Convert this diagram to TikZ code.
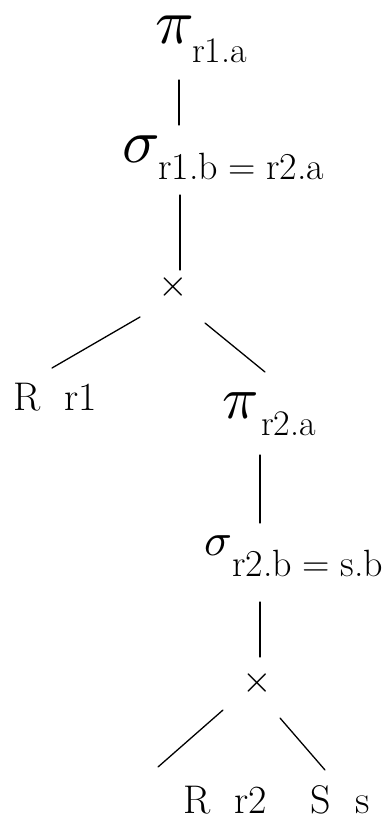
\documentclass[tikz,border=0pt]{standalone}
\usepackage{graphicx}
\usetikzlibrary{calc}
\newcommand{\bigsym}[2]{\scalebox{#1}{$#2$}}
\tikzset{
  sym/.style={inner sep=0pt},
  subtxt/.style={inner sep=0pt, anchor=west, font=\fontsize{36}{36}\selectfont},
  subwide/.style={inner sep=0pt, anchor=west, font=\fontsize{38}{38}\selectfont},
  rel/.style={inner sep=0pt, font=\fontsize{40}{40}\selectfont},
  edge/.style={line width=1.3pt, line cap=round}
}
\begin{document}
\begin{tikzpicture}[x=1pt,y=-1pt]
\useasboundingbox (0,0) rectangle (390,822);
% top projection
\node[sym] (pi1) at (175,30) {\bigsym{6.4}{\pi}};
\node[subtxt] (pi1s) at (192,51) {r1.a};
% top selection
\node[sym] (sg1) at (141,149) {\bigsym{6.2}{\sigma}};
\node[subwide] (sg1s) at (158,166) {r1.b\;=\;r2.a};
% upper cross product
\node[sym] (x1) at (173,287) {\bigsym{3.8}{\times}};
\node[rel] (rr1) at (55,397) {R\ \ r1};
% right projection
\node[sym] (pi2) at (241,406) {\bigsym{6.0}{\pi}};
\node[subtxt] (pi2s) at (261,424) {r2.a};
% right selection
\node[sym] (sg2) at (218,546) {\bigsym{4.6}{\sigma}};
\node[subwide] (sg2s) at (232,563) {r2.b\;=\;s.b};
% lower cross product
\node[sym] (x2) at (257,683) {\bigsym{3.8}{\times}};
\node[rel] (rr2) at (225,800) {R\ \ r2};
\node[rel] (ss) at (340,800) {S\ \ s};
% edges
\draw[edge] ($(pi1)+(4,50)$) -- ($(sg1)+(38,-24)$);
\draw[edge] ($(sg1)+(39,46)$) -- ($(x1)+(7,-17)$);
\draw[edge] ($(x1)+(-33,30)$) -- ($(rr1)+(-3,-29)$);
\draw[edge] ($(x1)+(32,36)$) -- ($(pi2)+(24,-34)$);
\draw[edge] ($(pi2)+(19,49)$) -- ($(sg2)+(42,-23)$);
\draw[edge] ($(sg2)+(42,56)$) -- ($(x2)+(3,-26)$);
\draw[edge] ($(x2)+(-34,27)$) -- ($(rr2)+(-67,-33)$);
\draw[edge] ($(x2)+(23,35)$) -- ($(ss)+(-15,-30)$);
\end{tikzpicture}
\end{document}
